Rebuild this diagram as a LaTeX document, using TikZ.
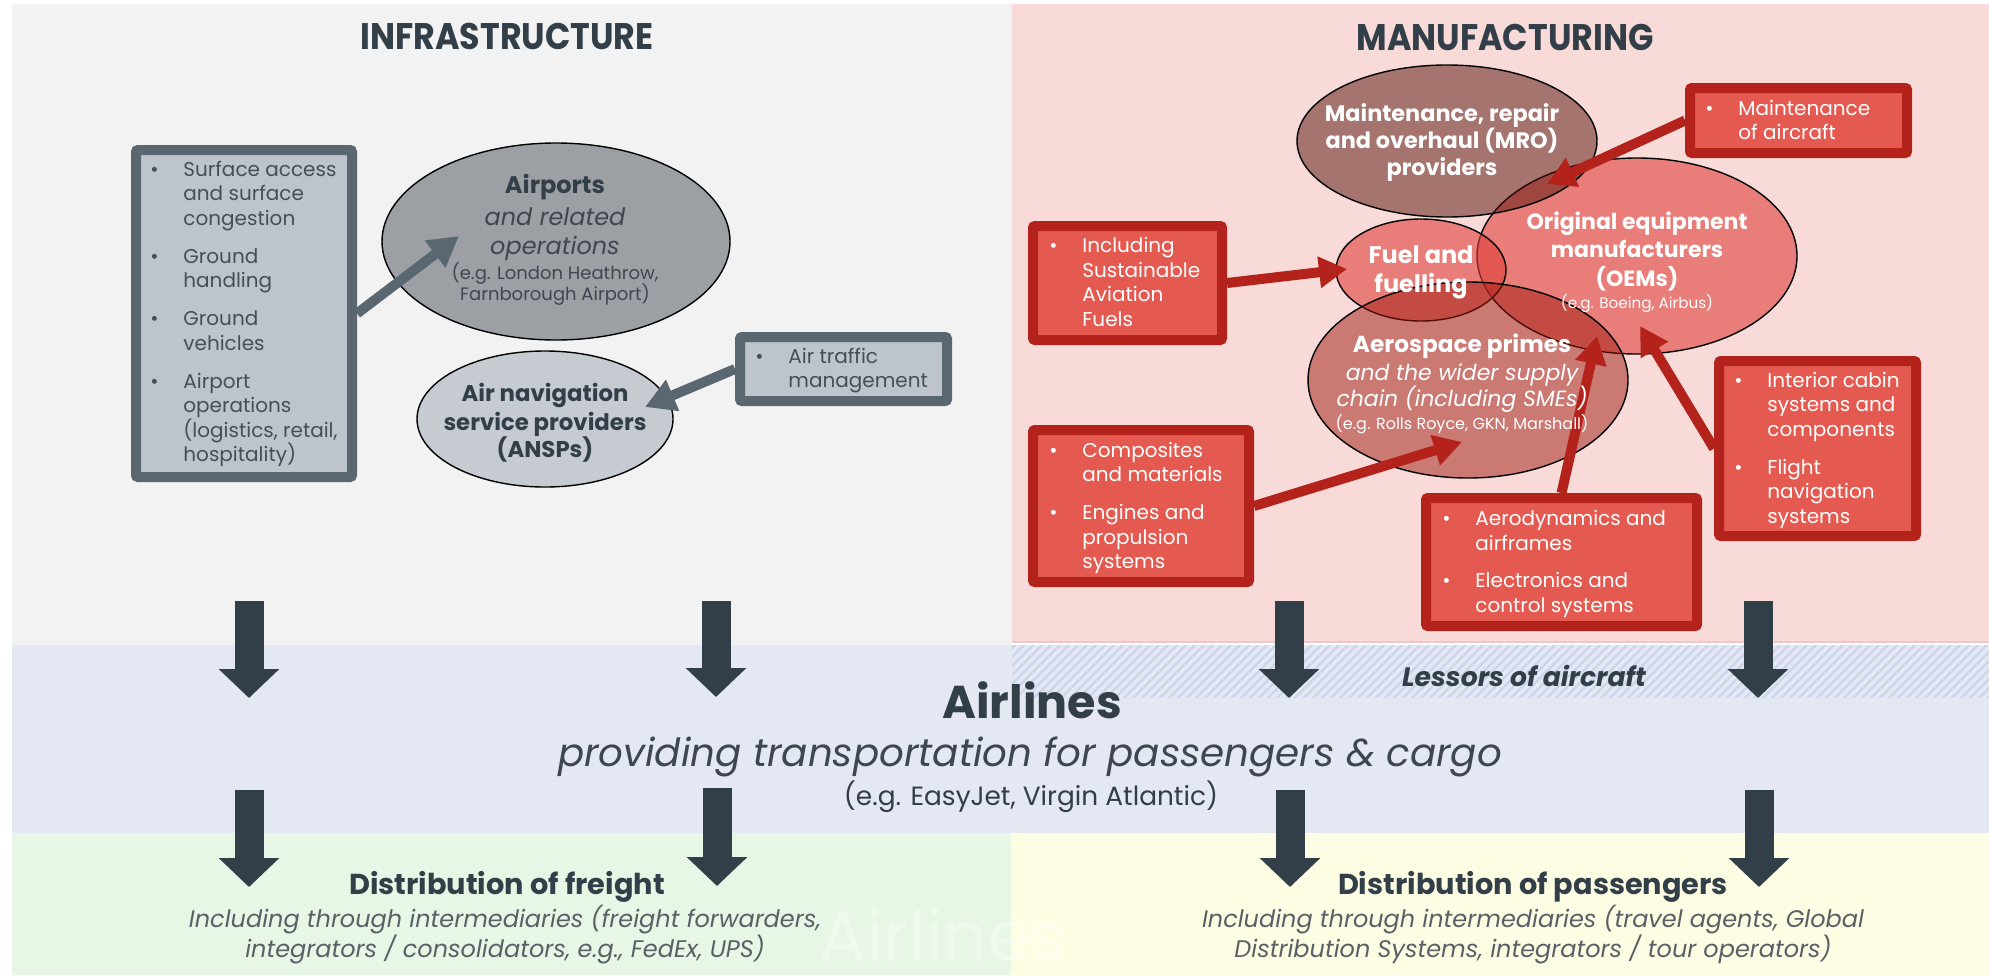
\documentclass[tikz,border=0pt]{standalone}
\usepackage{fontspec}
\setmainfont{Poppins}
\newfontfamily\condfont{Poppins}[FakeStretch=0.9]
\usetikzlibrary{arrows.meta,shapes.geometric}
\lineskiplimit=-100pt
\definecolor{slate}{HTML}{323E48}
\definecolor{gboxline}{HTML}{5B6770}
\definecolor{gboxfill}{HTML}{BDC4CB}
\definecolor{gtext}{HTML}{474E55}
\definecolor{airportfill}{HTML}{9C9FA4}
\definecolor{ansfill}{HTML}{C6CBD1}
\definecolor{rboxline}{HTML}{B3231C}
\definecolor{rboxfill}{HTML}{E45A50}
\definecolor{oemred}{HTML}{E0403A}
\definecolor{aerored}{HTML}{A01A10}
\definecolor{mrodark}{HTML}{541006}
\definecolor{panelgray}{HTML}{F2F2F2}
\definecolor{panelpink}{HTML}{F8DAD8}
\definecolor{pinkedge}{HTML}{F0C8C8}
\definecolor{bandblue}{HTML}{E4E8F3}
\definecolor{hatchblue}{HTML}{CDD5EC}
\definecolor{bandgreen}{HTML}{E8F6E5}
\definecolor{bandyellow}{HTML}{FCFDE3}
\definecolor{desctext}{HTML}{5A6066}
\definecolor{subtext}{HTML}{3E4750}
\newcommand\fs[1]{\fontsize{#1}{0pt}\selectfont}
\newcommand\bl{\makebox[16.5pt][l]{\textbullet}}
\newcommand\ind{\hspace*{16.5pt}}
\tikzset{
  gbox/.style={draw=gboxline, fill=gboxfill, line width=5pt, rounded corners=1pt, inner sep=0pt},
  rbox/.style={draw=rboxline, fill=rboxfill, line width=5pt, rounded corners=1pt, inner sep=0pt},
  ell/.style={ellipse, draw=black, line width=0.7pt, inner sep=0pt},
  garrow/.style={draw=gboxline, line width=5pt, -{Triangle[length=15pt,width=16pt]}},
  rarrow/.style={draw=rboxline, line width=5pt, -{Triangle[length=14pt,width=15pt]}},
  darrow/.style={draw=slate, line width=14.5pt, -{Triangle[length=14.5pt,width=29.5pt]}},
  gtxt/.style={align=left, inner sep=0pt, text=gtext, font=\fs{10}},
  rtxt/.style={align=left, inner sep=0pt, text=white, font=\fs{10}},
  wtxt/.style={align=center, inner sep=0pt, text=white},
  titletxt/.style={inner sep=0pt, text=slate, font=\condfont\fs{18.5}\bfseries},
  headb/.style={inner sep=0pt, text=slate, font=\fs{14.4}\bfseries},
  desc/.style={align=center, inner sep=0pt, text=desctext, font=\fs{12}\itshape},
}
\begin{document}
\begin{tikzpicture}[x=0.5pt,y=-0.5pt]
\useasboundingbox (0,0) rectangle (1989,975);
\fill[white] (0,0) rectangle (1989,975);
% panels
\fill[panelgray] (12,4) rectangle (1012,645);
\fill[panelpink] (1012,4) rectangle (1989,643);
\draw[pinkedge, line width=1pt] (1012,642) -- (1989,642);
\fill[bandblue] (12,645) rectangle (1989,833);
\begin{scope}
  \clip (1012,645) rectangle (1989,697);
  \foreach \i in {0,...,116} {\draw[hatchblue, line width=1.2pt] (960+\i*9,700) -- ++(58,-58);}
\end{scope}
\fill[bandgreen] (12,833) rectangle (1011,975);
\fill[bandyellow] (1011,833) rectangle (1989,975);
% watermark
\node[inner sep=0pt, font=\fs{34.5}, text=white, text opacity=0.35] (wm) at (943,935) {Airlines};
% titles
\node[titletxt] (tinfra) at (507,36) {INFRASTRUCTURE};
\node[titletxt] (tmanu) at (1505,37) {MANUFACTURING};
% infrastructure side
\node[gbox, minimum width=108pt, minimum height=163.5pt] (infrabox) at (244,313.5) {};
\node[gbox, minimum width=103.5pt, minimum height=32pt] (atm) at (843.5,369) {};
\node[ell, fill=airportfill, minimum width=174pt, minimum height=98.5pt] (airports) at (556,241.5) {};
\node[ell, fill=ansfill, minimum width=128pt, minimum height=68pt] (ansp) at (545,419) {};
% manufacturing side
\node[rbox, minimum width=108.5pt, minimum height=32.5pt] (maint) at (1798.5,120.5) {};
\node[rbox, minimum width=94.5pt, minimum height=57pt] (saf) at (1127.5,283) {};
\node[rbox, minimum width=108pt, minimum height=76pt] (comp) at (1141,506) {};
\node[rbox, minimum width=135.5pt, minimum height=64pt] (aero) at (1561.5,562) {};
\node[rbox, minimum width=98.5pt, minimum height=87.5pt] (cabin) at (1817.5,448.5) {};
\node[ell, fill=oemred, fill opacity=0.6, minimum width=160pt, minimum height=98pt] (oem) at (1637,256) {};
\node[ell, fill=oemred, fill opacity=0.6, minimum width=85pt, minimum height=51pt] (fuel) at (1421,270) {};
\node[ell, fill=aerored, fill opacity=0.5, minimum width=160pt, minimum height=98pt] (aerosp) at (1468,380) {};
\node[ell, fill=mrodark, fill opacity=0.5, minimum width=150pt, minimum height=76pt] (mro) at (1447,141) {};
% arrow tips
\coordinate (tAir) at (459,236);
\coordinate (tAnsp) at (645,407);
\coordinate (tMro) at (1547,184);
\coordinate (tFuel) at (1347,269);
\coordinate (tAeroC) at (1462,442);
\coordinate (tAeroA) at (1597,336);
\coordinate (tOem) at (1640,326);
\draw[garrow] (infrabox.east) -- (tAir);
\draw[garrow] (atm.west) -- (tAnsp);
\draw[rarrow] (maint.west) -- (tMro);
\draw[rarrow] (saf.east) -- (tFuel);
\draw[rarrow] (comp.east) -- (tAeroC);
\draw[rarrow] (aero.north) -- (tAeroA);
\draw[rarrow] (cabin.west) -- (tOem);
% down arrows
\coordinate (d1s) at (249,601); \coordinate (d1e) at (249,698);
\coordinate (d2s) at (716,601); \coordinate (d2e) at (716,697);
\coordinate (d3s) at (1289,601); \coordinate (d3e) at (1289,698);
\coordinate (d4s) at (1758,601); \coordinate (d4e) at (1758,698);
\coordinate (e1s) at (249,790); \coordinate (e1e) at (249,887);
\coordinate (e2s) at (717,788); \coordinate (e2e) at (717,886);
\coordinate (e3s) at (1290,790); \coordinate (e3e) at (1290,887);
\coordinate (e4s) at (1759,790); \coordinate (e4e) at (1759,887);
\foreach \a in {d1,d2,d3,d4,e1,e2,e3,e4} {\draw[darrow] (\a s) -- (\a e);}
% texts
\node[gtxt, anchor=west] (infratxt) at (150,314) {\bl Surface access\\[12.25pt]\ind and surface\\[12.25pt]\ind congestion\\[19pt]\bl Ground\\[12.25pt]\ind handling\\[19pt]\bl Ground\\[12.25pt]\ind vehicles\\[19pt]\bl Airport\\[12.25pt]\ind operations\\[12.25pt]\ind (logistics, retail,\\[12.25pt]\ind hospitality)};
\node[gtxt, anchor=west] (atmtxt) at (755,371) {\bl Air traffic\\[12pt]\ind management};
\node[align=center, inner sep=0pt, text=subtext, font=\fs{12}] (airportsT) at (555,240) {{\bfseries\color{slate}Airports}\\[16pt]{\itshape and related}\\[14.5pt]{\itshape operations}\\[12.5pt]{\fs{9}(e.g. London Heathrow,}\\[10.5pt]{\fs{9}Farnborough Airport)}};
\node[align=center, inner sep=0pt, text=slate, font=\fs{11.4}\bfseries] (anspT) at (545,423) {Air navigation\\[14.5pt]service providers\\[13.5pt](ANSPs)};
\node[rtxt, anchor=west] (mainttxt) at (1705,120) {\bl Maintenance\\[12pt]\ind of aircraft};
\node[rtxt, anchor=west] (saftxt) at (1049,282) {\bl Including\\[12.2pt]\ind Sustainable\\[12.2pt]\ind Aviation\\[12.2pt]\ind Fuels};
\node[rtxt, anchor=west] (comptxt) at (1049,508) {\bl Composites\\[12.25pt]\ind and materials\\[19pt]\bl Engines and\\[12.25pt]\ind propulsion\\[12.25pt]\ind systems};
\node[rtxt, anchor=west] (aerotxt) at (1442,564) {\bl Aerodynamics and\\[12.5pt]\ind airframes\\[18.5pt]\bl Electronics and\\[12.5pt]\ind control systems};
\node[rtxt, anchor=west] (cabintxt) at (1734,450) {\bl Interior cabin\\[12.25pt]\ind systems and\\[12.25pt]\ind components\\[19pt]\bl Flight\\[12.25pt]\ind navigation\\[12.25pt]\ind systems};
\node[wtxt, font=\fs{11.2}\bfseries] (mroT) at (1442,143) {Maintenance, repair\\[13.5pt]and overhaul (MRO)\\[13.5pt]providers};
\node[wtxt, font=\fs{11}\bfseries] (oemT) at (1637,262) {Original equipment\\[14pt]manufacturers\\[14.5pt](OEMs)\\[11.25pt]{\fs{7.6}\mdseries (e.g. Boeing, Airbus)}};
\node[wtxt, font=\fs{12}\bfseries] (fuelT) at (1421,272) {Fuel and\\[14.5pt]fuelling};
\node[wtxt, font=\fs{11}] (aeroT) at (1462,384) {{\fs{11.6}\bfseries Aerospace primes}\\[13.6pt]{\itshape and the wider supply}\\[13pt]{\itshape chain (including SMEs)}\\[11.6pt]{\fs{8}(e.g. Rolls Royce, GKN, Marshall)}};
% airlines band
\node[inner sep=0pt, text=slate, font=\fs{23}\bfseries] (airlines) at (1032,700) {Airlines};
\node[inner sep=0pt, text=subtext, font=\fs{19.4}\itshape] (airlinesSub) at (1030,757) {providing transportation for passengers \& cargo};
\node[inner sep=0pt, text=slate, font=\fs{13.2}] (airlinesEg) at (1031,797) {(e.g. EasyJet, Virgin Atlantic)};
\node[inner sep=0pt, text=slate, font=\fs{13.3}\bfseries\itshape] (lessors) at (1524,676) {Lessors of aircraft};
% distribution
\node[headb] (freightH) at (507,887) {Distribution of freight};
\node[desc] (freightD) at (505,935) {Including through intermediaries (freight forwarders,\\[15pt]integrators / consolidators, e.g., FedEx, UPS)};
\node[headb] (passH) at (1533,887) {Distribution of passengers};
\node[desc] (passD) at (1533,935) {Including through intermediaries (travel agents, Global\\[15pt]Distribution Systems, integrators / tour operators)};
\end{tikzpicture}
\end{document}
